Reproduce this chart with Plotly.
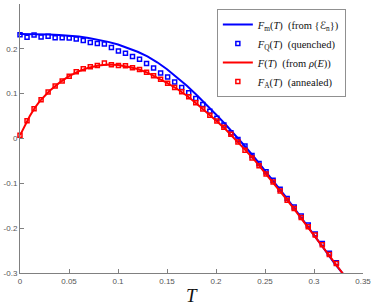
import numpy as np
import plotly.graph_objects as go

# Line grid (temperature) and smooth curves
T_line = [0, 0.005, 0.01, 0.015, 0.02, 0.03, 0.04, 0.05, 0.06, 0.07, 0.08, 0.09, 0.10,
          0.11, 0.12, 0.13, 0.14, 0.15, 0.16, 0.17, 0.18, 0.19, 0.20, 0.21, 0.22,
          0.23, 0.24, 0.25, 0.26, 0.27, 0.28, 0.29, 0.30, 0.31, 0.32, 0.33]

Fm_line = [0.233, 0.233, 0.2329, 0.2328, 0.2326, 0.2320, 0.2310, 0.2295, 0.2273, 0.2243,
           0.2205, 0.2155, 0.2095, 0.2020, 0.1935, 0.1830, 0.1700, 0.1545, 0.1370,
           0.1180, 0.0975, 0.0760, 0.0537, 0.0306, 0.0066, -0.0184, -0.0444, -0.0712,
           -0.0987, -0.1268, -0.1556, -0.1850, -0.2148, -0.2452, -0.2760, -0.3030]

F_line = [0.007, 0.030, 0.050, 0.068, 0.083, 0.106, 0.124, 0.139, 0.150, 0.158, 0.163,
          0.165, 0.164, 0.160, 0.155, 0.147, 0.136, 0.124, 0.111, 0.096, 0.078, 0.060,
          0.040, 0.020, -0.002, -0.026, -0.050, -0.076, -0.102, -0.130, -0.158,
          -0.187, -0.214, -0.243, -0.272, -0.303]

# Sampled temperatures for the markers
T_pts = np.linspace(0, 0.33, 47)

FQ_pts = [0.2316, 0.2256, 0.2309, 0.2265, 0.2278, 0.2249, 0.2249, 0.2242, 0.2220, 0.2188,
          0.2143, 0.2121, 0.2108, 0.2031, 0.1950, 0.1900, 0.1830, 0.1770, 0.1675, 0.1570,
          0.1460, 0.1370, 0.1260, 0.1140, 0.1020, 0.0890, 0.0760, 0.0610, 0.0450, 0.0300,
          0.0130, -0.0020, -0.0170, -0.0380, -0.0560, -0.0740, -0.0930, -0.1130, -0.1340,
          -0.1530, -0.1730, -0.1930, -0.2130, -0.2340, -0.2560, -0.2770, -0.3020]

FA_pts = [0.0074, 0.0395, 0.0664, 0.0865, 0.1038, 0.1173, 0.1285, 0.1390, 0.1487, 0.1554,
          0.1599, 0.1628, 0.1682, 0.1643, 0.1628, 0.1621, 0.1580, 0.1540, 0.1480, 0.1400,
          0.1320, 0.1230, 0.1140, 0.1040, 0.0930, 0.0800, 0.0660, 0.0520, 0.0390, 0.0250,
          0.0096, -0.0076, -0.0260, -0.0435, -0.0610, -0.0790, -0.0970, -0.1170, -0.1380,
          -0.1560, -0.1760, -0.1970, -0.2150, -0.2370, -0.2590, -0.2790]

x_ticks = [0, 0.05, 0.1, 0.15, 0.2, 0.25, 0.3, 0.35]
x_ticktext = ["0", "0.05", "0.1", "0.15", "0.2", "0.25", "0.3", "0.35"]
y_ticks = [-0.3, -0.2, -0.1, 0, 0.1, 0.2]
y_ticktext = ["-0.3", "-0.2", "-0.1", "0", "0.1", "0.2"]

BLUE = "#0000ff"
RED = "#ff0000"
SCRIPT_E = "<span style='font-family:DejaVu Sans'>ℰ</span>"

fig = go.Figure()
fig.add_trace(go.Scatter(x=T_line, y=Fm_line, mode="lines",
                         line=dict(color=BLUE, width=2),
                         name="<i>F</i><sub>m</sub>(<i>T</i>)  (from {" + SCRIPT_E + "<sub>n</sub>})"))
fig.add_trace(go.Scatter(x=T_pts, y=FQ_pts, mode="markers", cliponaxis=False,
                         marker=dict(symbol="square-open", size=4, color=BLUE,
                                     line=dict(width=1.5, color=BLUE)),
                         name="<i>F</i><sub>Q</sub>(<i>T</i>)  (quenched)"))
fig.add_trace(go.Scatter(x=T_line, y=F_line, mode="lines",
                         line=dict(color=RED, width=2),
                         name="<i>F</i>(<i>T</i>)  (from <i>ρ</i>(<i>E</i>))"))
fig.add_trace(go.Scatter(x=T_pts[:len(FA_pts)], y=FA_pts, mode="markers", cliponaxis=False,
                         marker=dict(symbol="square-open", size=4, color=RED,
                                     line=dict(width=1.5, color=RED)),
                         name="<i>F</i><sub>A</sub>(<i>T</i>)  (annealed)"))

axis_col = "#808080"
tick_font = dict(family="Liberation Sans, Arial", size=8, color="#555555")

fig.update_layout(
    width=374, height=307,
    margin=dict(l=20, r=11, t=4, b=34, autoexpand=False),
    paper_bgcolor="white", plot_bgcolor="white",
    showlegend=True,
    legend=dict(x=0.95, y=0.981, xanchor="right", yanchor="top",
                bgcolor="white", bordercolor="#909090", borderwidth=1,
                font=dict(family="Liberation Serif, Times New Roman, serif", size=10.5, color="#111111"),
                itemwidth=30, tracegroupgap=0),
    xaxis=dict(range=[0, 0.35], tickvals=x_ticks, ticktext=x_ticktext,
               showgrid=False, zeroline=False, showline=True, linecolor=axis_col,
               linewidth=1, ticks="inside", ticklen=4, tickcolor=axis_col,
               tickfont=tick_font, automargin=False),
    yaxis=dict(range=[-0.3, 0.3], tickvals=y_ticks, ticktext=y_ticktext,
               showgrid=False, zeroline=False, showline=True, linecolor=axis_col,
               linewidth=1, ticks="inside", ticklen=4, tickcolor=axis_col,
               tickfont=tick_font, automargin=False),
    annotations=[dict(text="<i>T</i>", x=0.5, y=-0.085, xref="paper", yref="paper",
                      xanchor="center", yanchor="middle", showarrow=False,
                      font=dict(family="Liberation Serif, serif", size=19, color="#111111"))],
)

fig.write_html("out.html", config={"displayModeBar": False},
               post_script="document.body.style.margin='0';document.body.style.overflow='hidden';")
